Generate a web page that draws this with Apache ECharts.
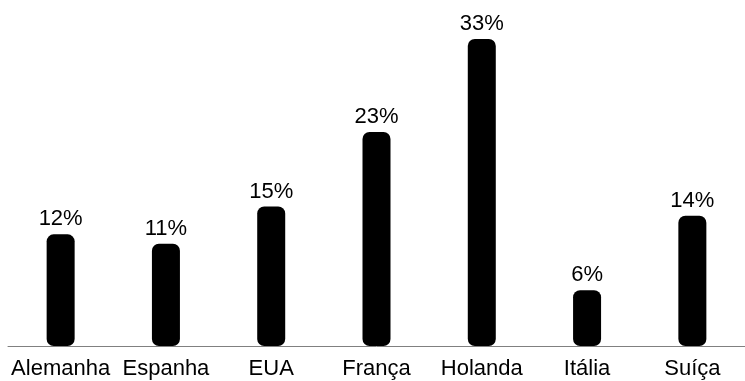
<!DOCTYPE html>
<html>
<head>
<meta charset="utf-8">
<script src="https://cdn.jsdelivr.net/npm/echarts@6/dist/echarts.min.js"></script>
<style>
  html, body { margin: 0; padding: 0; background: #fff; }
  #chart { width: 745px; height: 381px; }
</style>
</head>
<body>
<div id="chart"></div>
<script>
// 国家
var categories = ['Alemanha', 'Espanha', 'EUA', 'França', 'Holanda', 'Itália', 'Suíça']
// 占比 (%)
var values = [12, 11, 15, 23, 33, 6, 14]

var myChart = echarts.init(document.getElementById('chart'))
var option = {
  animation: false,
  textStyle: {
    fontFamily: 'Liberation Sans, Arial, sans-serif'
  },
  grid: {
    left: 8,
    right: -5,
    top: 39,
    bottom: 35
  },
  xAxis: {
    type: 'category',
    data: categories,
    axisTick: { show: false },
    axisLine: {
      lineStyle: { color: '#808080', width: 1 }
    },
    axisLabel: {
      color: '#000',
      fontSize: 22,
      margin: 12,
      interval: 0,
      hideOverlap: false
    }
  },
  yAxis: {
    type: 'value',
    min: 0,
    max: 33,
    show: false,
    splitLine: { show: false }
  },
  series: [
    {
      type: 'bar',
      data: values,
      barWidth: 28,
      itemStyle: {
        color: '#000',
        borderRadius: 7
      },
      label: {
        show: true,
        position: 'top',
        distance: 4,
        color: '#000',
        fontSize: 22,
        formatter: '{c}%'
      }
    }
  ]
}
myChart.setOption(option)
</script>
</body>
</html>
